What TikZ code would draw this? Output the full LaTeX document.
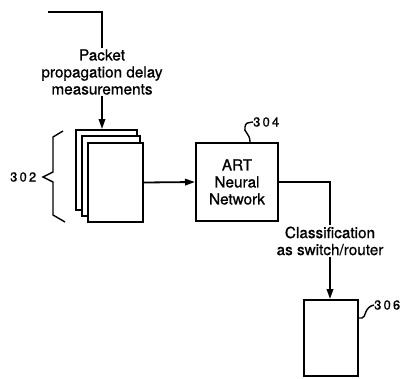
\documentclass[tikz,border=0pt]{standalone}
\usepackage{fontspec}
\setmainfont{TeX Gyre Heros}[FakeBold=0.8]
\usepackage{tikz}
\usetikzlibrary{arrows.meta, positioning, calc}

\begin{document}
\begin{tikzpicture}[
    x=1pt, y=-1pt,
    >={Triangle[length=10pt,width=6.5pt]},
    sheet/.style={
        rectangle, draw=black, fill=white,
        line width=2pt, inner sep=0pt
    },
    caption/.style={
        align=center, inner sep=1pt,
        font=\fontsize{15.3}{17}\selectfont
    },
    refnum/.style={
        inner sep=0pt, anchor=west,
        font=\fontsize{13}{15}\selectfont
    },
    arrow/.style={->, line width=1.8pt},
    line/.style={line width=1.8pt}
]
\useasboundingbox (0,0) rectangle (407,378);

% ==============================================================================
% INPUT: DELAY MEASUREMENTS
% ==============================================================================
\coordinate (feed) at (48,12);
\node[caption] (meas) at (102,72) {Packet\\propagation delay\\measurements};

% stack of measurement sheets (back to front)
\node[sheet, minimum width=61pt, minimum height=80pt] (sheetA) at (106.5,170) {};
\node[sheet, minimum width=58pt, minimum height=80pt] (sheetB) at (111,176) {};
\node[sheet, minimum width=55pt, minimum height=79pt] (sheetC) at (115.5,182.5) {};

\draw[line] (feed) -- (feed -| meas.north) -- (meas.north);
\draw[arrow] (meas.south) -- (meas.south |- sheetA.north);

% brace 302
\node[refnum] (l302) at (10,177) {3\,0\,2};
\draw[line, line width=1.4pt] (63,131) -- (53,137) -- (53,172) -- (l302.east -| 43,0) -- (53,182) -- (53,215) -- (65,222);

% ==============================================================================
% ART NEURAL NETWORK
% ==============================================================================
\node[sheet, caption, minimum width=82pt, minimum height=78pt] (art) at (237,182) {ART\\Neural\\Network};
\draw[arrow] (sheetC.east) -- (art.west);

\node[refnum] (l304) at (253,122) {3\,0\,4};
\draw[line, line width=1.4pt] (art.north -| 250,0) .. controls (250,133) and (243,132) .. (245,127) .. controls (246,123) .. (l304.west);

% ==============================================================================
% OUTPUT: CLASSIFICATION
% ==============================================================================
\node[caption] (cls) at (330,241) {Classification\\as switch/router};
\node[sheet, minimum width=54pt, minimum height=76pt] (outbox) at (331,338) {};

\draw[line] (art.east) -| (cls.north);
\draw[arrow] (cls.south) -- (cls.south |- outbox.north);

\node[refnum] (l306) at (374,305) {3\,0\,6};
\draw[line, line width=1.4pt] (outbox.east |- 0,318) -- (362,318) .. controls (366,318) and (364,307) .. (l306.west);

\end{tikzpicture}
\end{document}
